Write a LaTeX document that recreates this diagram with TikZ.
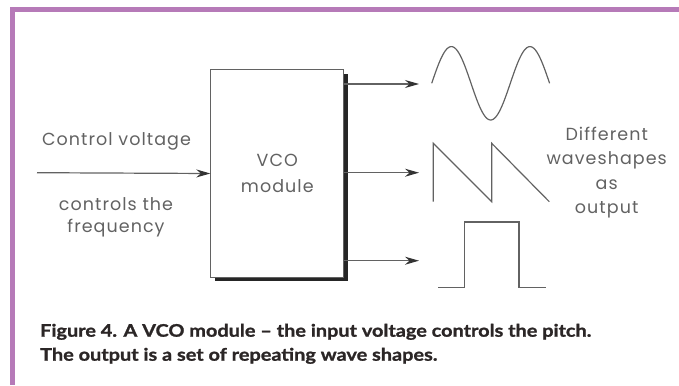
\documentclass[tikz,border=0pt]{standalone}
\usepackage{fontspec}
\setsansfont{Poppins}[LetterSpace=6]
\newfontfamily\capfont{Lato}[FakeStretch=1.15, BoldFeatures={FakeBold=1.3}]
\usetikzlibrary{arrows.meta,shadows}
\definecolor{framepurple}{HTML}{B67AB8}
\definecolor{ink}{HTML}{626262}
\definecolor{capink}{HTML}{2B2626}
\tikzset{
  wire/.style={ink, line width=1.2pt},
  sig/.style={wire, -{Stealth[length=14pt,width=8pt,color=black!80]}},
  lbl/.style={text=ink, font=\sffamily\fontsize{17.5}{22}\selectfont, align=center, inner sep=0pt},
}

\begin{document}
\begin{tikzpicture}[x=1pt,y=-1pt]
	\useasboundingbox (0,0) rectangle (679,385);
	\draw[framepurple, line width=4.5pt] (679,9.5) -- (12.5,9.5) -- (12.5,385);
	% module with its shadow
	\node[draw=ink, line width=1pt, fill=white, minimum width=133pt, minimum height=207pt,
		general shadow={fill=black!85, shadow xshift=4pt, shadow yshift=-4pt},
		lbl, font=\sffamily\fontsize{17.5}{26}\selectfont] (vco) at (277.3,173.5) {VCO\\module};
	% input
	\coordinate (ctlin) at (37,172.7);
	\draw[sig] (ctlin) -- (vco.west);
	\node[lbl] (ctltxt) at (116.5,141) {Control voltage};
	\node[lbl] (freqtxt) at (116,217) {controls the\\frequency};
	% outputs
	\coordinate (sineend) at (419,84);
	\coordinate (sawend) at (419,172.7);
	\coordinate (sqend) at (419,260.7);
	\draw[sig] (vco.east |- sineend) -- (sineend);
	\draw[sig] (vco.east |- sawend) -- (sawend);
	\draw[sig] (vco.east |- sqend) -- (sqend);
	\draw[wire, domain=0:540, samples=120, smooth] plot ({431.7+\x/360*78.6},{83.3-36.7*sin(\x)});
	\draw[wire] (433.3,201.7) -- (433.3,143.3) -- (491.7,201.7) -- (491.7,143.3) -- (549.3,201.7);
	\draw[wire] (438.3,287.7) -- (464.3,287.7) -- (464.3,222) -- (519,222) -- (519,287.7) -- (546,287.7);
	\node[lbl, font=\sffamily\fontsize{17.5}{24.5}\selectfont] (outtxt) at (606.7,172.5) {Different\\waveshapes\\as\\output};
	% caption
	\node[anchor=base west, inner sep=0pt, align=left, text=capink,
		font=\capfont\bfseries\fontsize{17.3}{24}\selectfont] (caption) at (40,360.7)
		{Figure 4. A VCO module – the input voltage controls the pitch.\\The output is a set of repeating wave shapes.};
\end{tikzpicture}
\end{document}
